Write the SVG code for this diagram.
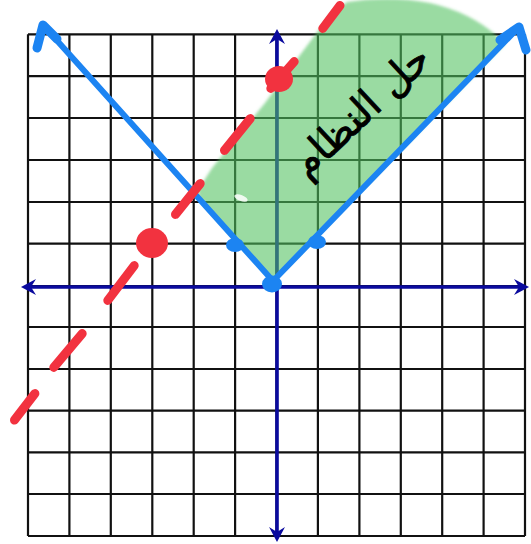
<svg xmlns="http://www.w3.org/2000/svg" width="531" height="544" viewBox="0 0 531 544">
  <style>
    .grid line { stroke: #111; stroke-width: 2.2; }
    .axis { stroke: #0a0a9e; stroke-width: 3.6; fill: none; }
    .blue { stroke: #1c84f2; stroke-width: 6; fill: none; stroke-linecap: round; stroke-linejoin: round; }
    .bluehead { stroke: #1c84f2; stroke-width: 9; fill: none; stroke-linecap: round; stroke-linejoin: round; }
    .dash { stroke: #f2323f; stroke-width: 9; stroke-linecap: round; }
    .label { font-family: "DejaVu Sans", sans-serif; font-size: 40px; fill: #000; stroke: #000; stroke-width: 0.8; }
  </style>
  <defs>
    <marker id="axhead" viewBox="-18 -10 20 20" refX="-7" refY="0" markerWidth="20" markerHeight="20" markerUnits="userSpaceOnUse" orient="auto-start-reverse">
      <path d="M0,0 L-15,-8 L-10,0 L-15,8 Z" fill="#0a0a9e"/>
    </marker>
    <filter id="soft" x="-10%" y="-10%" width="120%" height="120%">
      <feGaussianBlur stdDeviation="1.6"/>
    </filter>
  </defs>
  <rect width="531" height="544" fill="#fff"/>

  <g id="grid" class="grid">
    <line x1="28" y1="34.3" x2="28" y2="536"/>
    <line x1="69.4" y1="34.3" x2="69.4" y2="536"/>
    <line x1="110.8" y1="34.3" x2="110.8" y2="536"/>
    <line x1="152.3" y1="34.3" x2="152.3" y2="536"/>
    <line x1="193.7" y1="34.3" x2="193.7" y2="536"/>
    <line x1="235.1" y1="34.3" x2="235.1" y2="536"/>
    <line x1="276.5" y1="34.3" x2="276.5" y2="536"/>
    <line x1="317.9" y1="34.3" x2="317.9" y2="536"/>
    <line x1="359.4" y1="34.3" x2="359.4" y2="536"/>
    <line x1="400.8" y1="34.3" x2="400.8" y2="536"/>
    <line x1="442.2" y1="34.3" x2="442.2" y2="536"/>
    <line x1="483.6" y1="34.3" x2="483.6" y2="536"/>
    <line x1="525" y1="34.3" x2="525" y2="536"/>
    <line x1="28" y1="34.3" x2="525" y2="34.3"/>
    <line x1="28" y1="76.2" x2="525" y2="76.2"/>
    <line x1="28" y1="118" x2="525" y2="118"/>
    <line x1="28" y1="160" x2="525" y2="160"/>
    <line x1="28" y1="202" x2="525" y2="202"/>
    <line x1="28" y1="243.7" x2="525" y2="243.7"/>
    <line x1="28" y1="286" x2="525" y2="286"/>
    <line x1="28" y1="327" x2="525" y2="327"/>
    <line x1="28" y1="369" x2="525" y2="369"/>
    <line x1="28" y1="410.7" x2="525" y2="410.7"/>
    <line x1="28" y1="452.3" x2="525" y2="452.3"/>
    <line x1="28" y1="494" x2="525" y2="494"/>
    <line x1="28" y1="536" x2="525" y2="536"/>
  </g>

  <g id="axes">
    <line class="axis" x1="277" y1="36" x2="277" y2="535" marker-start="url(#axhead)" marker-end="url(#axhead)"/>
    <line class="axis" x1="28" y1="287" x2="522" y2="287" marker-start="url(#axhead)" marker-end="url(#axhead)"/>
  </g>

  <g id="solution-region">
    <path d="M273,281 L199,199 L198,190 L212,168 L265,103 L300,55 L330,15 L347,2 Q390,-5 430,3 Q470,12 497,36 L505,44 Z" fill="#4fc160" fill-opacity="0.58" filter="url(#soft)"/>
    <ellipse cx="241" cy="198" rx="7" ry="3" fill="#fff" fill-opacity="0.85" transform="rotate(20 241 198)"/>
  </g>

  <g id="connectors">
    <g id="abs-line">
      <path class="blue" d="M43,25 L273,281 L519,27"/>
      <path class="bluehead" d="M37,48 L43,25 L57,39"/>
      <path class="bluehead" d="M500,40 L519,27 L526,50"/>
    </g>
    <g id="dashed-line">
      <line class="dash" x1="14.5" y1="420.1" x2="34.9" y2="393.6"/>
      <line class="dash" x1="53.8" y1="367.4" x2="82.2" y2="333.6"/>
      <line class="dash" x1="107.8" y1="300.4" x2="134.2" y2="265.6"/>
      <line class="dash" x1="175.5" y1="214.4" x2="200.2" y2="183.6"/>
      <line class="dash" x1="224.5" y1="150.4" x2="250.2" y2="118.6"/>
      <line class="dash" x1="270.8" y1="88.4" x2="294.2" y2="61.6"/>
      <line class="dash" x1="322.8" y1="28.4" x2="340" y2="5.5"/>
    </g>
  </g>

  <g id="points">
    <ellipse id="p-origin" cx="272" cy="284" rx="10" ry="8.5" fill="#1c84f2"/>
    <ellipse id="p-left" cx="235" cy="245" rx="9" ry="7" fill="#1c84f2"/>
    <ellipse id="p-right" cx="317" cy="242" rx="9" ry="7" fill="#1c84f2"/>
    <ellipse id="r1" cx="152" cy="243" rx="16" ry="15" fill="#f2323f"/>
    <ellipse id="r2" cx="279" cy="79" rx="14" ry="13" fill="#f2323f"/>
  </g>

  <g id="label">
    <text class="label" x="362" y="124" text-anchor="middle" transform="rotate(-43 362 112)">حل النظام</text>
  </g>
</svg>
